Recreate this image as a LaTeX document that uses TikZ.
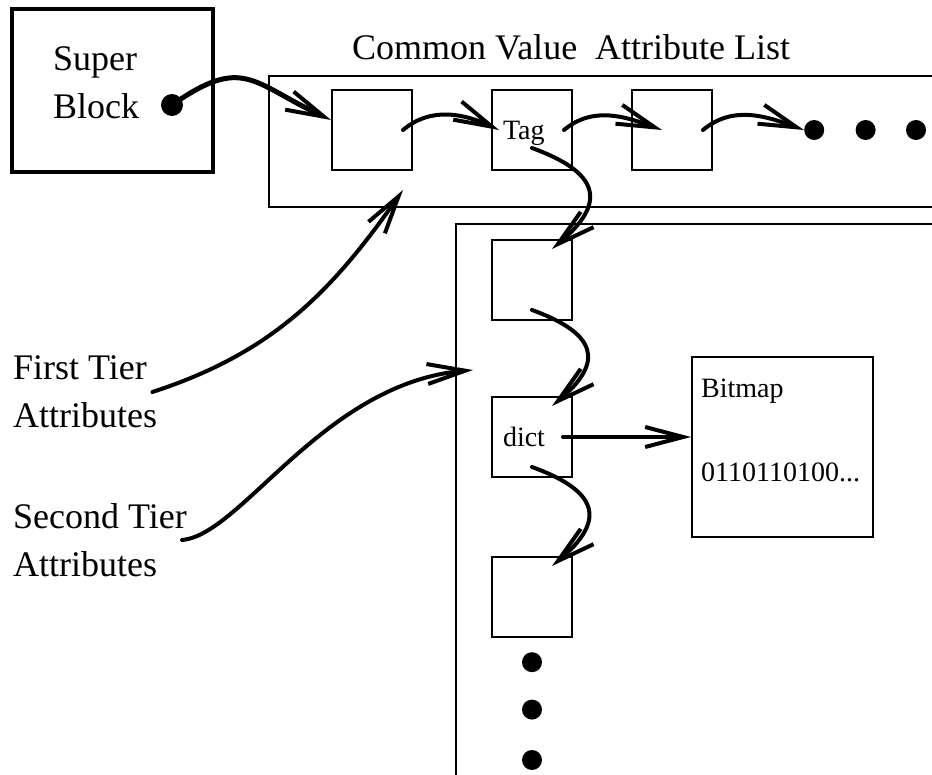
\documentclass[tikz,border=0pt]{standalone}
\usepackage{fontspec}
\setmainfont{Liberation Serif}
\usepackage{tikz}
\usetikzlibrary{positioning, arrows.meta}

\begin{document}
\begin{tikzpicture}[
        x=1pt, y=1pt,
        big/.style={font=\fontsize{36}{48}\selectfont, inner sep=0pt, align=left},
        small/.style={font=\fontsize{28}{34}\selectfont, inner sep=0pt},
        cell/.style={draw, rectangle, line width=2pt, minimum width=80pt, minimum height=80pt, inner sep=0pt},
        tagcell/.style={cell, small, text width=58pt, inner xsep=11pt, align=left, text depth=0pt},
        frame/.style={draw, rectangle, line width=2pt, anchor=north west},
        dot/.style={circle, fill=black, inner sep=0pt, minimum size=20pt},
        arr/.style={-{Straight Barb[length=38pt,width=20pt,line width=4pt]}, line width=4pt, line cap=round, line join=round}
    ]
    \useasboundingbox (0,0) rectangle (932,-775);
    \clip (0,0) rectangle (932,-775);

    % Nodes
    \node[draw, line width=4pt, minimum width=201pt, minimum height=163pt] (super) at (112.5,-90.5) {};
    \node[big, anchor=west] (superlbl) at (53,-83) {Super\\Block};
    \node[dot, minimum size=22pt] (sbdot) at (172,-105) {};

    \node[big, anchor=base west] (title) at (352,-60) {Common Value\ \ Attribute List};
    \node[frame, minimum width=690pt, minimum height=131pt] (tier1) at (268,-75) {};
    \node[cell] (b1) at (372,-130) {};
    \node[tagcell] (tag) [right=78pt of b1] {Tag};
    \node[cell] (b3) [right=58pt of tag] {};
    \node[dot] (d1) [right=91pt of b3] {};
    \node[dot] (d2) [right=31pt of d1] {};
    \node[dot] (d3) [right=30pt of d2] {};

    \node[frame, minimum width=600pt, minimum height=700pt] (tier2) at (455,-223) {};
    \node[cell] (sa) [below=68pt of tag] {};
    \node[tagcell] (dict) [below=75pt of sa] {dict};
    \node[cell] (sc) [below=78pt of dict] {};
    \node[dot] (v1) [below=14pt of sc] {};
    \node[dot] (v2) [below=27pt of v1] {};
    \node[dot] (v3) [below=30pt of v2] {};

    \node[cell, minimum width=181pt, minimum height=179pt, right=118pt of dict, yshift=-10pt] (bitmap) {};
    \node[small, anchor=base west] (bmname) at ([xshift=10pt,yshift=-41pt]bitmap.north west) {Bitmap};
    \node[small, anchor=base west] (bmbits) at ([xshift=10pt,yshift=-125pt]bitmap.north west) {0110110100...};

    \node[big, anchor=west] (first) at (13,-392) {First Tier\\Attributes};
    \node[big, anchor=west] (second) at (13,-540) {Second Tier\\Attributes};

    % Arrows along the first tier
    \draw[arr, line width=5pt] (sbdot.center) to[out=35,in=155,looseness=1.4] ([yshift=10pt]b1.west);
    \draw[arr] ([xshift=-10pt]b1.east) to[out=40,in=155] ([xshift=8pt]tag.west);
    \draw[arr] ([xshift=-9pt]tag.east) to[out=40,in=160] ([xshift=-10pt]b3.center);
    \draw[arr] ([xshift=-10pt]b3.east) to[out=40,in=160] (d1.west);

    % Arrows down the second tier
    \draw[arr] ([yshift=-18pt]tag.center) to[out=-20,in=40,looseness=1.8] ([xshift=20pt,yshift=-10pt]sa.north);
    \draw[arr] ([yshift=-30pt]sa.center) to[out=-20,in=40,looseness=1.8] ([xshift=20pt,yshift=-10pt]dict.north);
    \draw[arr] ([yshift=-30pt]dict.center) to[out=-20,in=40,looseness=1.8] ([xshift=20pt,yshift=-10pt]sc.north);
    \draw[arr] ([xshift=-10pt]dict.east) -- (dict.east -| bitmap.west);

    % Label arrows
    \draw[arr] ([xshift=-5pt]first.east) to[out=18,in=235] ([xshift=135pt,yshift=18pt]tier1.south west);
    \draw[arr] ([xshift=-5pt]second.east) to[out=5,in=185,out distance=60pt,in distance=150pt] ([xshift=18pt,yshift=-147pt]tier2.north west);

\end{tikzpicture}
\end{document}
